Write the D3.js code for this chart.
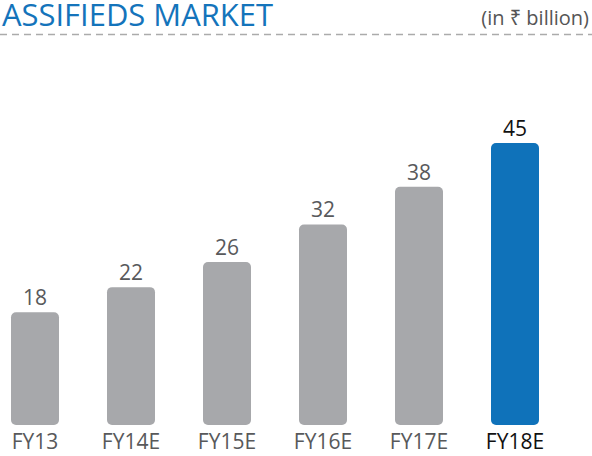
<!DOCTYPE html>
<html>
<head>
<meta charset="utf-8">
<script src="https://cdn.jsdelivr.net/npm/d3@7"></script>
<style>
  html, body { margin: 0; padding: 0; background: #fff; }
  svg { display: block; font-family: "Open Sans", "Noto Sans", sans-serif; }
</style>
</head>
<body>
<svg id="chart" width="592" height="456"></svg>
<script>
const categories = ["FY13", "FY14E", "FY15E", "FY16E", "FY17E", "FY18E"];
const values = [18, 22, 26, 32, 38, 45];
const highlight = ["FY18E"];
const titleText = "ASSIFIEDS MARKET";
const unitText = "(in ₹ billion)";

const svg = d3.select("#chart");

const x = d3.scaleBand().domain(categories).range([11, 539]).paddingInner(0.5).paddingOuter(0);
const y = d3.scaleLinear().domain([0, 45]).range([425, 143]);

// Title
svg.append("text")
  .attr("x", 2).attr("y", 25.5)
  .attr("font-size", 30.5).attr("font-weight", 500)
  .attr("fill", "#1474bb")
  .attr("textLength", 271).attr("lengthAdjust", "spacingAndGlyphs")
  .text(titleText);

svg.append("text")
  .attr("x", 589).attr("y", 25)
  .attr("text-anchor", "end")
  .attr("font-size", 20)
  .attr("fill", "#555")
  .text(unitText);

// dashed rule
svg.append("line")
  .attr("x1", 0).attr("x2", 592)
  .attr("y1", 34.5).attr("y2", 34.5)
  .attr("stroke", "#ababab").attr("stroke-width", 1.5)
  .attr("stroke-dasharray", "7 5");

const g = svg.append("g");
const data = categories.map((c, i) => ({ c, v: values[i], hi: highlight.includes(c) }));

g.selectAll("rect").data(data).join("rect")
  .attr("x", d => x(d.c))
  .attr("y", d => y(d.v))
  .attr("width", x.bandwidth())
  .attr("height", d => y(0) - y(d.v))
  .attr("rx", 5).attr("ry", 5)
  .attr("fill", d => d.hi ? "#0f72ba" : "#a7a8ab");

g.selectAll("text.val").data(data).join("text")
  .attr("class", "val")
  .attr("x", d => x(d.c) + x.bandwidth() / 2)
  .attr("y", d => y(d.v) - 7)
  .attr("text-anchor", "middle")
  .attr("font-size", 21)
  .attr("fill", d => d.hi ? "#111" : "#58595b")
  .text(d => d.v);

g.selectAll("text.cat").data(data).join("text")
  .attr("class", "cat")
  .attr("x", d => x(d.c) + x.bandwidth() / 2)
  .attr("y", 448.5)
  .attr("text-anchor", "middle")
  .attr("font-size", 21)
  .attr("fill", d => d.hi ? "#111" : "#58595b")
  .text(d => d.c);
</script>
</body>
</html>
